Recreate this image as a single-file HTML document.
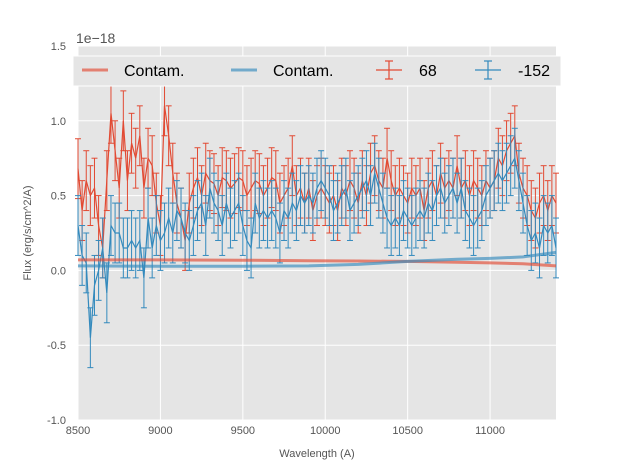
<!DOCTYPE html>
<html><head><meta charset="utf-8"><style>
body{margin:0;background:#fff;}
svg text{font-family:"Liberation Sans",sans-serif;}
</style></head><body>
<svg id="chart" width="617" height="467" xmlns="http://www.w3.org/2000/svg">
<rect x="78" y="46" width="478" height="374" fill="#e5e5e5"/>
<g id="grid"></g>
<g id="series"></g>
<g id="ticks"></g>
<text x="76" y="43" font-size="14" fill="#555">1e−18</text>
<text x="317" y="457" font-size="11" fill="#555" text-anchor="middle">Wavelength (A)</text>
<text transform="translate(31,233) rotate(-90)" font-size="11" fill="#555" text-anchor="middle">Flux (erg/s/cm^2/A)</text>
<g>
<rect x="73" y="56" width="488" height="30" fill="#e5e5e5" stroke="#fff" stroke-width="1"/>
<g><line x1="82" y1="70" x2="108" y2="70" stroke="#E24A33" stroke-opacity="0.65" stroke-width="3"/><text x="124" y="76" font-size="16">Contam.</text></g>
<g><line x1="231" y1="70" x2="257" y2="70" stroke="#348ABD" stroke-opacity="0.65" stroke-width="3"/><text x="273" y="76" font-size="16">Contam.</text></g>
<g stroke="#E24A33" stroke-width="1.2"><line x1="376" y1="70" x2="402" y2="70"/><line x1="389" y1="61" x2="389" y2="79"/><line x1="385" y1="61" x2="393" y2="61"/><line x1="385" y1="79" x2="393" y2="79"/><text x="419" y="76" font-size="16" stroke="none" fill="#000">68</text></g>
<g stroke="#348ABD" stroke-width="1.2"><line x1="475" y1="70" x2="501" y2="70"/><line x1="488" y1="61" x2="488" y2="79"/><line x1="484" y1="61" x2="492" y2="61"/><line x1="484" y1="79" x2="492" y2="79"/><text x="518" y="76" font-size="16" stroke="none" fill="#000">-152</text></g>
</g>
</svg>
<script>
const wl = [8500,8525,8550,8575,8600,8625,8650,8675,8700,8725,8750,8775,8800,8825,8850,8875,8900,8925,8950,8975,9000,9025,9050,9075,9100,9125,9150,9175,9200,9225,9250,9275,9300,9325,9350,9375,9400,9425,9450,9475,9500,9525,9550,9575,9600,9625,9650,9675,9700,9725,9750,9775,9800,9825,9850,9875,9900,9925,9950,9975,10000,10025,10050,10075,10100,10125,10150,10175,10200,10225,10250,10275,10300,10325,10350,10375,10400,10425,10450,10475,10500,10525,10550,10575,10600,10625,10650,10675,10700,10725,10750,10775,10800,10825,10850,10875,10900,10925,10950,10975,11000,11025,11050,11075,11100,11125,11150,11175,11200,11225,11250,11275,11300,11325,11350,11375,11400];
const red = [
0.68,0.4,0.6,0.5,0.55,0.3,0.15,0.6,
1.05,0.8,0.55,1.0,0.6,0.85,0.75,0.9,
0.55,0.75,0.7,0.45,0.3,1.1,0.9,0.65,
0.45,0.35,0.2,0.45,0.55,0.62,0.5,0.65,
0.6,0.58,0.5,0.62,0.6,0.55,0.58,0.62,
0.6,0.5,0.55,0.6,0.58,0.5,0.55,0.62,
0.6,0.45,0.5,0.55,0.7,0.5,0.55,0.45,
0.55,0.4,0.5,0.55,0.5,0.45,0.5,0.4,
0.55,0.5,0.6,0.55,0.45,0.6,0.5,0.65,
0.7,0.6,0.55,0.75,0.6,0.5,0.55,0.5,
0.45,0.55,0.5,0.55,0.4,0.55,0.6,0.5,
0.65,0.55,0.6,0.55,0.7,0.55,0.6,0.5,
0.6,0.55,0.5,0.6,0.55,0.6,0.75,0.7,
0.8,0.85,0.9,0.65,0.55,0.5,0.4,0.35,
0.45,0.5,0.4,0.5,0.45];
const blue = [
0.3,0.1,0.05,-0.45,-0.1,0.0,0.15,-0.15,
0.3,0.25,0.25,0.15,0.15,0.2,0.15,0.2,
-0.05,0.35,0.15,0.3,0.2,0.25,0.35,0.25,
0.4,0.35,0.25,0.2,0.3,0.4,0.45,0.3,
0.55,0.45,0.4,0.3,0.45,0.35,0.4,0.45,
0.3,0.2,0.15,0.45,0.35,0.4,0.35,0.4,
0.35,0.25,0.4,0.35,0.45,0.4,0.5,0.45,
0.5,0.45,0.55,0.6,0.55,0.5,0.4,0.45,
0.5,0.55,0.4,0.45,0.5,0.55,0.6,0.5,
0.65,0.55,0.45,0.35,0.3,0.35,0.3,0.4,
0.35,0.3,0.35,0.4,0.35,0.45,0.4,0.5,
0.55,0.45,0.5,0.55,0.45,0.55,0.4,0.35,
0.3,0.35,0.4,0.5,0.55,0.6,0.65,0.6,
0.65,0.7,0.75,0.6,0.45,0.3,0.2,0.25,
0.15,0.3,0.25,0.3,0.15];
const redErr = 0.2, blueErr = 0.2;
const contamWl = [8500,9000,9500,9900,10200,10500,10800,11000,11200,11400];
const contamRed = [0.07,0.07,0.068,0.065,0.063,0.06,0.055,0.05,0.045,0.03];
const contamBlue = [0.03,0.028,0.028,0.03,0.04,0.06,0.075,0.08,0.09,0.12];
const xTicks = [8500,9000,9500,10000,10500,11000];
const yTicks = [-1.0,-0.5,0.0,0.5,1.0,1.5];
const X0=78,X1=556,Y0=46,Y1=420;
const sx = v => X0 + (v-8500)/(11400-8500)*(X1-X0);
const sy = v => Y1 - (v+1.0)/2.5*(Y1-Y0);
const NS="http://www.w3.org/2000/svg";
function mk(t,a,p){const e=document.createElementNS(NS,t);for(const k in a)e.setAttribute(k,a[k]);p.appendChild(e);return e;}
const grid=document.getElementById('grid'), ticks=document.getElementById('ticks'), ser=document.getElementById('series');
xTicks.forEach(t=>{
  const l=mk('line',{x1:sx(t),x2:sx(t),y1:Y0,y2:Y1,stroke:'#fff','stroke-width':1},grid);
  
  
  const tx=mk('text',{x:sx(t),y:Y1+14,'font-size':11,fill:'#555','text-anchor':'middle'},ticks);
  tx.textContent=t;
  
  
});
yTicks.forEach(t=>{
  const l=mk('line',{x1:X0,x2:X1,y1:sy(t),y2:sy(t),stroke:'#fff','stroke-width':1},grid);
  
  
  const tx=mk('text',{x:X0-12,y:sy(t)+4,'font-size':11,fill:'#555','text-anchor':'end'},ticks);
  tx.textContent=t.toFixed(1);
  
  
});
function line(xs,ys,color,w,op,name){
  const d=xs.map((x,i)=>(i?'L':'M')+sx(x).toFixed(1)+','+sy(ys[i]).toFixed(1)).join('');
  const p=mk('path',{d:d,fill:'none',stroke:color,'stroke-width':w,'stroke-opacity':op},ser);
  
  
}
function errs(ys,err,color,name){
  const g=mk('g',{stroke:color,'stroke-width':1},ser);
  
  
  wl.forEach((x,i)=>{
    const cx=sx(x),a=sy(ys[i]+err),b=sy(ys[i]-err);
    mk('line',{x1:cx,x2:cx,y1:a,y2:b},g);
    mk('line',{x1:cx-3,x2:cx+3,y1:a,y2:a},g);
    mk('line',{x1:cx-3,x2:cx+3,y1:b,y2:b},g);
  });
}
errs(red,redErr,'#E24A33','errorbars-68');
line(wl,red,'#E24A33',1.2,1,'series-68-line');
errs(blue,blueErr,'#348ABD','errorbars-152');
line(wl,blue,'#348ABD',1.2,1,'series-152-line');
line(contamWl,contamRed,'#E24A33',3,0.65,'contam-red-line');
line(contamWl,contamBlue,'#348ABD',3,0.65,'contam-blue-line');
</script>
</body></html>
